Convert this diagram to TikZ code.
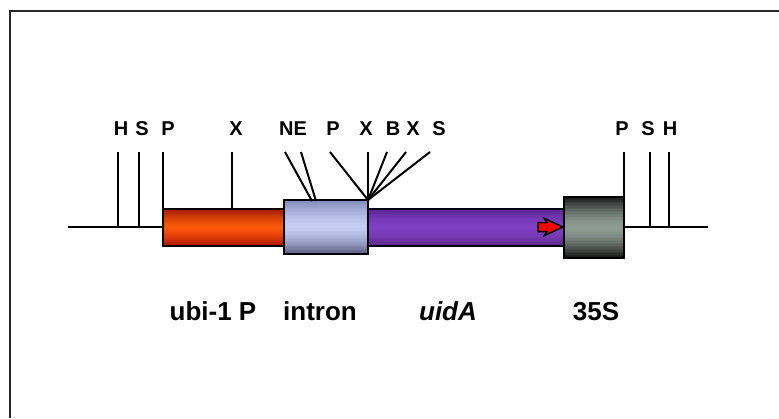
\documentclass[tikz,border=0pt]{standalone}
\usepackage{fontspec}
\setmainfont{Liberation Sans}
\usetikzlibrary{calc}

% colours of the gene segments (edge / centre / edge)
\definecolor{ubiTop}{HTML}{A01C00}
\definecolor{ubiMid}{HTML}{FF5A0C}
\definecolor{ubiBot}{HTML}{B01400}
\definecolor{intTop}{HTML}{8088B8}
\definecolor{intMid}{HTML}{C4CCF2}
\definecolor{intBot}{HTML}{5A5C80}
\definecolor{uidTop}{HTML}{5A2490}
\definecolor{uidMid}{HTML}{8040C4}
\definecolor{uidBot}{HTML}{5C2888}
\definecolor{cmvTop}{HTML}{181818}
\definecolor{cmvMid}{HTML}{8E9C94}
\definecolor{cmvBot}{HTML}{141414}
\definecolor{frameGray}{HTML}{262626}

% vertical gradient fill of a named rectangular node, drawn as thin strips;
% #5 is the exponent of the edge-to-centre profile
\newcommand\stripfill[5]{%
  \foreach \k in {0,...,39}{%
    \pgfmathsetmacro\ta{\k/40}%
    \pgfmathsetmacro\tb{min(1,(\k+1.3)/40)}%
    \pgfmathsetmacro\mix{100*(abs(\k+0.5-20)/20)^#5}%
    \ifnum\k<20 \def\edgecol{#2}\else\def\edgecol{#4}\fi
    \fill[color=\edgecol!\mix!#3]
      ($(#1.north west)!\ta!(#1.south west)$) rectangle
      ($(#1.north east)!\tb!(#1.south east)$);
  }%
  \draw[line width=2pt] (#1.north west) rectangle (#1.south east);
}

\begin{document}
\begin{tikzpicture}[x=1pt,y=-1pt,
  line width=2pt,
  site/.style={font=\fontsize{20}{22}\selectfont\bfseries, inner sep=0pt, anchor=base},
  part/.style={font=\fontsize{26}{28}\selectfont\bfseries, inner sep=0pt, anchor=base},
  seg/.style={anchor=north west, inner sep=0pt, outer sep=0pt, rectangle},
  tick/.style={line width=2pt, line cap=butt}
]
\useasboundingbox (0,0) rectangle (779,418);

% outer frame (top and left edges)
\draw[line width=2.2pt, frameGray] (10,418) -- (10,11) -- (779,11);

% baseline of the construct
\coordinate (L) at (68,227);
\coordinate (R) at (708,227);
\draw[tick] (L) -- (R);

% tops of the restriction-site lines
\coordinate (tH1) at (118,152);
\coordinate (tS1) at (139,152);
\coordinate (tP1) at (163,152);
\coordinate (tX1) at (232,152);
\coordinate (tN)  at (285,152);
\coordinate (tE)  at (301,152);
\coordinate (tP2) at (330,152);
\coordinate (tX2) at (368,152);
\coordinate (tB)  at (387,152);
\coordinate (tX3) at (406,152);
\coordinate (tS2) at (430,152);
\coordinate (tP3) at (624,152);
\coordinate (tS3) at (650,152);
\coordinate (tH3) at (669,152);

% gene segments
\node[seg, minimum width=121, minimum height=37] (ubi)  at (163,209) {};
\node[seg, minimum width=197, minimum height=37] (uid)  at (368,209) {};
\node[seg, minimum width=84,  minimum height=54] (intr) at (284,200) {};
\node[seg, minimum width=60,  minimum height=61] (s35)  at (564,197) {};

\stripfill{ubi}{ubiTop}{ubiMid}{ubiBot}{1.2}
\stripfill{uid}{uidTop}{uidMid}{uidBot}{1.6}
\stripfill{intr}{intTop}{intMid}{intBot}{1.6}
\stripfill{s35}{cmvTop}{cmvMid}{cmvBot}{1.6}

% ends of the restriction-site lines
\coordinate (J)   at (368,200);
\coordinate (eN)  at (312,201);
\coordinate (eE)  at (316,201);
\coordinate (bH1) at (118,227);
\coordinate (bS1) at (139,227);
\coordinate (bS3) at (650,227);
\coordinate (bH3) at (669,227);

% restriction-site lines
\draw[tick] (tH1) -- (bH1);
\draw[tick] (tS1) -- (bS1);
\draw[tick] (tP1) -- (ubi.north west);
\draw[tick] (tX1) -- (ubi.north west -| tX1);
\draw[tick] (tN) -- (eN);
\draw[tick] (tE) -- (eE);
\draw[tick] (tP2) -- (J);
\draw[tick] (tX2) -- (J);
\draw[tick] (tB) -- (J);
\draw[tick] (tX3) -- (J);
\draw[tick] (tS2) -- (J);
\draw[tick] (tP3) -- (s35.north east);
\draw[tick] (tS3) -- (bS3);
\draw[tick] (tH3) -- (bH3);

% orientation arrow inside uidA
\draw[line width=1.5pt, fill=red, line join=miter]
  (538,222.5) -- (547,222.5) -- (544.5,218.5) -- (563,227) -- (544.5,235.5) -- (547,231.5) -- (538,231.5) -- cycle;

% site labels
\node[site] (lH1) at (121,135) {H};
\node[site] (lS1) at (142,135) {S};
\node[site] (lP1) at (168,135) {P};
\node[site] (lX1) at (236,135) {X};
\node[site] (lNE) at (293,135) {NE};
\node[site] (lP2) at (333,135) {P};
\node[site] (lX2) at (366,135) {X};
\node[site] (lB)  at (393,135) {B};
\node[site] (lX3) at (413,135) {X};
\node[site] (lS2) at (439,135) {S};
\node[site] (lP3) at (622,135) {P};
\node[site] (lS3) at (648,135) {S};
\node[site] (lH3) at (670,135) {H};

% part labels
\node[part] (nubi) at (213,320) {ubi-1 P};
\node[part] (nint) at (320,320) {intron};
\node[part] (nuid) at (448,320) {\itshape uidA};
\node[part] (n35)  at (596,320) {35S};
\end{tikzpicture}
\end{document}
